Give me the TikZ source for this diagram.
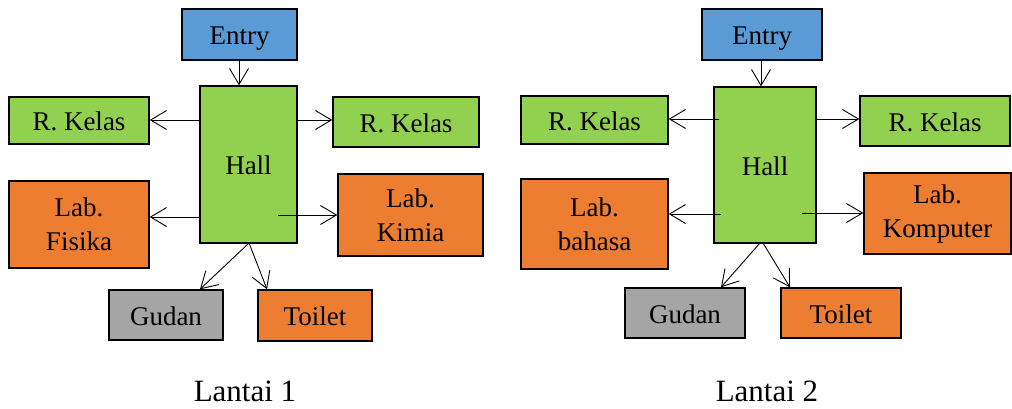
\documentclass[tikz,border=0pt]{standalone}
\usepackage{fontspec}
\setmainfont{Liberation Serif}
\usetikzlibrary{arrows.meta}
\definecolor{cblue}{HTML}{5B9BD5}
\definecolor{cgreen}{HTML}{92D050}
\definecolor{corange}{HTML}{ED7D31}
\definecolor{cgray}{HTML}{A5A5A5}
\tikzset{
  box/.style={draw=black, line width=1.4pt, inner sep=0pt, align=center,
    font=\fontsize{27}{34}\selectfont},
  oneline/.style={text height=20pt, text depth=0pt},
  bluebox/.style={box, oneline, fill=cblue},
  greenbox/.style={box, oneline, fill=cgreen},
  orangebox/.style={box, oneline, fill=corange},
  labbox/.style={box, fill=corange},
  graybox/.style={box, oneline, fill=cgray},
  arr/.style={draw=black, line width=0.9pt,
    -{Straight Barb[length=16pt,width=19pt,line width=0.9pt]}},
  caption/.style={anchor=base, font=\fontsize{31}{35}\selectfont, inner sep=0pt}
}
\begin{document}
\begin{tikzpicture}[x=1pt,y=-1pt]
\useasboundingbox (0,0) rectangle (1012,408);
% ---------- Lantai 1 ----------
\node[bluebox, minimum width=115pt, minimum height=51pt] (entryA) at (239.5,34.5) {Entry};
\node[greenbox, minimum width=97pt, minimum height=157pt] (hallA) at (248.5,164.5) {Hall};
\node[greenbox, minimum width=140pt, minimum height=47pt] (kelasA1) at (79,120.5) {R. Kelas};
\node[greenbox, minimum width=146pt, minimum height=50pt] (kelasA2) at (406,122) {R. Kelas};
\node[labbox, minimum width=140pt, minimum height=87pt] (fisika) at (79,224.5) {Lab.\\Fisika};
\node[labbox, minimum width=145pt, minimum height=82pt] (kimia) at (410.5,215) {Lab.\\Kimia};
\node[graybox, minimum width=114pt, minimum height=50pt] (gudanA) at (166,315) {Gudan};
\node[orangebox, minimum width=114pt, minimum height=51pt] (toiletA) at (315,315.5) {Toilet};
\node[caption] (lantaiA) at (245,401) {Lantai 1};

\coordinate (aK1) at (200,120);
\coordinate (aK2) at (297,120);
\coordinate (aF) at (200,217);
\coordinate (aKim) at (278,215);
\coordinate (aBot) at (249,243);
\draw[arr] (entryA.south -| 239,0) -- (hallA.north -| 239,0);
\draw[arr] (aK1) -- (kelasA1.east |- aK1);
\draw[arr] (aK2) -- (kelasA2.west |- aK2);
\draw[arr] (aF) -- (fisika.east |- aF);
\draw[arr] (aKim) -- (kimia.west |- aKim);
\draw[arr] (aBot) -- (gudanA.north -| 200,0);
\draw[arr] (aBot) -- (toiletA.north -| 267,0);

% ---------- Lantai 2 ----------
\node[bluebox, minimum width=120pt, minimum height=51pt] (entryB) at (762,34.5) {Entry};
\node[greenbox, minimum width=102pt, minimum height=156pt] (hallB) at (765,165) {Hall};
\node[greenbox, minimum width=147pt, minimum height=48pt] (kelasB1) at (594.5,120) {R. Kelas};
\node[greenbox, minimum width=150pt, minimum height=50pt] (kelasB2) at (935,121) {R. Kelas};
\node[labbox, minimum width=147pt, minimum height=90pt] (bahasa) at (594.5,224) {Lab.\\bahasa};
\node[labbox, minimum width=147pt, minimum height=81pt] (komputer) at (937.5,213.5) {Lab.\\Komputer};
\node[graybox, minimum width=120pt, minimum height=50pt] (gudanB) at (685,313) {Gudan};
\node[orangebox, minimum width=120pt, minimum height=50pt] (toiletB) at (841,313) {Toilet};
\node[caption] (lantaiB) at (767,401) {Lantai 2};

\coordinate (bK1) at (719,119);
\coordinate (bK2) at (816,119);
\coordinate (bB) at (721,214);
\coordinate (bKom) at (802,213);
\coordinate (bBot1) at (760,243);
\coordinate (bBot2) at (763,243);
\draw[arr] (entryB.south -| 761,0) -- (hallB.north -| 761,0);
\draw[arr] (bK1) -- (kelasB1.east |- bK1);
\draw[arr] (bK2) -- (kelasB2.west |- bK2);
\draw[arr] (bB) -- (bahasa.east |- bB);
\draw[arr] (bKom) -- (komputer.west |- bKom);
\draw[arr] (bBot1) -- (gudanB.north -| 721,0);
\draw[arr] (bBot2) -- (toiletB.north -| 790,0);
\end{tikzpicture}
\end{document}
